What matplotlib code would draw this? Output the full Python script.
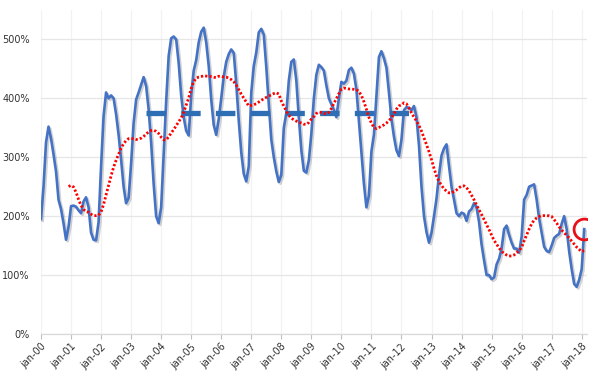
import numpy as np
import pandas as pd
import matplotlib
matplotlib.use("Agg")
import matplotlib.pyplot as plt
from matplotlib import patheffects as pe

# ---- data (percent, monthly from jan-00) ----
v2000 = [195, 250, 325, 352, 332, 305, 276, 228, 212, 188, 160, 182]
v2001 = [217, 218, 216, 210, 205, 225, 232, 215, 172, 160, 159, 190]
v2002 = [285, 370, 410, 400, 405, 400, 373, 338, 296, 250, 222, 231]
v2003 = [290, 358, 398, 410, 423, 436, 421, 381, 325, 255, 200, 188]
v2004 = [215, 305, 395, 472, 502, 505, 500, 460, 405, 368, 345, 337]
v2005 = [405, 447, 465, 495, 513, 520, 495, 455, 398, 355, 338, 365]
v2006 = [400, 437, 462, 475, 483, 477, 425, 362, 308, 272, 259, 285]
v2007 = [410, 455, 478, 512, 518, 508, 453, 390, 330, 300, 276, 258]
v2008 = [270, 350, 375, 430, 462, 466, 430, 367, 312, 277, 274, 295]
v2009 = [340, 400, 440, 457, 453, 447, 422, 400, 390, 380, 368, 400]
v2010 = [428, 425, 430, 448, 452, 442, 415, 362, 307, 255, 215, 235]
v2011 = [310, 338, 405, 470, 480, 468, 452, 410, 365, 335, 312, 302]
v2012 = [330, 380, 385, 384, 380, 387, 368, 320, 250, 200, 173, 155]
v2013 = [172, 200, 230, 270, 303, 315, 322, 285, 250, 228, 205, 200]
v2014 = [206, 204, 192, 208, 212, 222, 215, 190, 152, 125, 100, 100]
v2015 = [93, 96, 118, 128, 145, 178, 184, 168, 155, 145, 145, 138]
v2016 = [165, 228, 236, 250, 252, 254, 228, 196, 172, 148, 141, 139]
v2017 = [150, 163, 167, 170, 187, 200, 178, 140, 110, 85, 80, 92]
v2018 = [110, 178]

tick_labels = ["jan-%02d" % y for y in range(0, 19)]
y_ticks = [0, 100, 200, 300, 400, 500]
y_labels = ["0%", "100%", "200%", "300%", "400%", "500%"]

avg_level = 375          # thick dashed reference level (%)
avg_start = 42           # jul-03 (month index)
avg_end = 149            # may-12 (month index)
ma_window = 12

series = (v2000 + v2001 + v2002 + v2003 + v2004 + v2005 + v2006 + v2007 + v2008 +
          v2009 + v2010 + v2011 + v2012 + v2013 + v2014 + v2015 + v2016 + v2017 + v2018)
vals = np.array(series, dtype=float) / 100.0
months = np.arange(len(vals))
ma = pd.Series(vals).rolling(ma_window).mean()

plt.rcParams["lines.scale_dashes"] = False
fig = plt.figure(figsize=(6.04, 3.77), dpi=100)
ax = fig.add_axes([41 / 604, 1 - 334 / 377, (586.7 - 41) / 604, (334 - 10) / 377])

ax.plot(months, vals, color="#4472C4", lw=1.9, solid_joinstyle="round", zorder=3,
        path_effects=[pe.SimpleLineShadow(offset=(1.2, -1.2), shadow_color="#808080", alpha=0.35),
                      pe.Normal()])
ax.plot([avg_start, avg_end], [avg_level / 100, avg_level / 100], color="#2E6EB5", lw=3.8,
        dashes=(14, 11), solid_capstyle="butt", dash_capstyle="butt", zorder=4)
ax.plot(months, ma, color="#FF0000", lw=2.0, dashes=(1.6, 1.5), dash_capstyle="butt", zorder=5)
ax.plot(months[-1:], vals[-1:], marker="o", ms=15, mfc="none", mec="#E8101A", mew=2.0,
        ls="none", zorder=6)

ax.set_xlim(0, 218)
ax.set_ylim(0, 5.5)
ax.set_xticks(np.arange(0, 217, 12))
ax.set_xticklabels(tick_labels, rotation=45, ha="right", rotation_mode="anchor",
                   fontsize=7, color="#333333")
ax.set_yticks([t / 100 for t in y_ticks])
ax.set_yticklabels(y_labels, fontsize=7, color="#333333")

ax.tick_params(axis="y", length=0, pad=8)
ax.tick_params(axis="x", length=3.5, width=0.8, color="#BFBFBF", pad=2)
ax.grid(axis="y", color="#E6E6E6", lw=0.9)
ax.grid(axis="x", color="#F2F2F2", lw=0.9)
ax.set_axisbelow(True)
for s in ["top", "right", "left"]:
    ax.spines[s].set_visible(False)
ax.spines["bottom"].set_color("#D9D9D9")
ax.spines["bottom"].set_linewidth(0.9)

fig.savefig("out.png", dpi=100)
